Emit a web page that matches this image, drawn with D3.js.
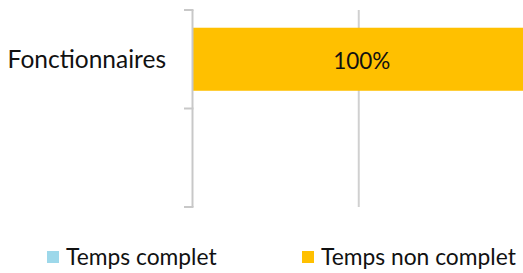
<!DOCTYPE html>
<html><head><meta charset="utf-8">
<script src="https://cdn.jsdelivr.net/npm/d3@7"></script>
<style>body{margin:0;background:#fff}svg{display:block}</style>
</head><body>
<script>
const categories = ["Fonctionnaires", ""];
const seriesNames = ["Temps complet", "Temps non complet"];
const tempsComplet = [0, null];
const tempsNonComplet = [100, null];
const xTicks = [0, 50, 100];
const colors = ["#9DD8EA", "#FFC000"];

const W = 523, H = 273;
const font = "Lato, 'Open Sans', sans-serif";
const svg = d3.select("body").append("svg").attr("width", W).attr("height", H);

const x = d3.scaleLinear().domain([0, 100]).range([192.5, 525]);
const y = d3.scaleBand().domain(categories).range([10, 207]).paddingInner(0.36).paddingOuter(0.18);

// gridlines
svg.append("g").selectAll("line").data(xTicks.filter(t => t > 0 && t < 100)).join("line")
  .attr("x1", d => x(d)).attr("x2", d => x(d)).attr("y1", 10).attr("y2", 207)
  .attr("stroke", "#d0d0d0").attr("stroke-width", 2);

// stacked data
const rows = categories.map((c, i) => ({cat: c, v: [tempsComplet[i], tempsNonComplet[i]]}));
rows.forEach(r => {
  let acc = 0;
  r.v.forEach((v, k) => {
    if (v == null || v <= 0) return;
    svg.append("rect").attr("x", x(acc)).attr("y", y(r.cat)).attr("width", x(acc + v) - x(acc))
      .attr("height", y.bandwidth()).attr("fill", colors[k]);
    svg.append("text").attr("x", (x(acc) + x(acc + v)) / 2 + 3).attr("y", y(r.cat) + y.bandwidth() / 2)
      .attr("dy", "0.42em").attr("text-anchor", "middle").attr("font-family", font)
      .attr("font-size", 22.5).attr("fill", "#111").text(v + "%");
    acc += v;
  });
});

// y axis
const yAxisLine = svg.append("g");
yAxisLine.append("line").attr("x1", 192.5).attr("x2", 192.5).attr("y1", 10).attr("y2", 207)
  .attr("stroke", "#c8c8c8").attr("stroke-width", 2);
const tickYs = [10, (10 + 207) / 2, 207];
yAxisLine.selectAll("line.t").data(tickYs).join("line").attr("class", "t")
  .attr("x1", 184).attr("x2", 193.5).attr("y1", d => d).attr("y2", d => d)
  .attr("stroke", "#c8c8c8").attr("stroke-width", 2);
svg.append("g").selectAll("text").data(categories).join("text")
  .attr("x", 166).attr("y", d => y(d) + y.bandwidth() / 2).attr("dy", "0.35em")
  .attr("text-anchor", "end").attr("font-family", font).attr("font-size", 24.5).attr("fill", "#111").text(d => d);

// legend
const lx = [47, 302];
const lg = svg.append("g");
seriesNames.forEach((s, i) => {
  lg.append("rect").attr("x", lx[i]).attr("y", 251).attr("width", 12).attr("height", 12).attr("fill", colors[i]);
  lg.append("text").attr("x", lx[i] + 19).attr("y", 257).attr("dy", "0.35em").attr("font-family", font)
    .attr("font-size", 22.8).attr("fill", "#111").text(s);
});
</script>
</body></html>
